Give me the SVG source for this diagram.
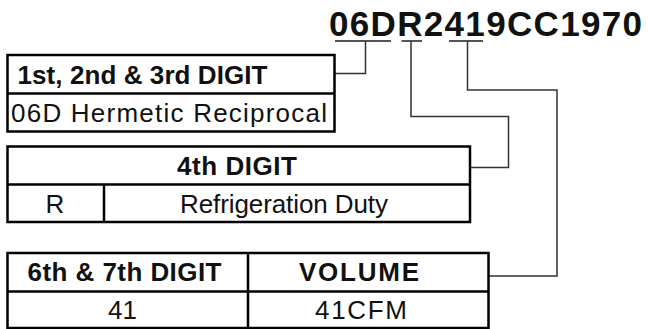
<svg xmlns="http://www.w3.org/2000/svg" width="649" height="329" viewBox="0 0 649 329">
<style>
.box{fill:#fff;stroke:#000;stroke-width:2.5}
.div{stroke:#000;stroke-width:2.5;fill:none}
.con{stroke:#333;stroke-width:1.5;fill:none}
.ul{stroke:#555;stroke-width:2;fill:none}
text{font-family:"Liberation Sans",Arial,sans-serif;fill:#111;font-size:26px}
.b{font-weight:bold}
.m{text-anchor:middle}
.title{font-size:35px;font-weight:bold}
</style>
<rect width="649" height="329" fill="#fff"/>
<g id="code">
<text class="title" x="329" y="35.5" textLength="313" lengthAdjust="spacing">06DR2419CC1970</text>
<line class="ul" x1="335" y1="41" x2="391" y2="41"/>
<line class="ul" x1="401.5" y1="41" x2="422" y2="41"/>
<line class="ul" x1="449" y1="41" x2="483" y2="41"/>
</g>
<g id="connectors">
<path class="con" d="M365.5,41 V73.5 H335"/>
<path class="con" d="M411,41 V116.5 H508.5 V167.5 H470"/>
<path class="con" d="M467.5,41 V90 H557 V276 H489"/>
</g>
<g id="digit123">
<rect class="box" x="7.5" y="55" width="327" height="76.5"/>
<line class="div" x1="7.5" y1="93.5" x2="334.5" y2="93.5"/>
<text class="b" x="17.5" y="83.5" textLength="250" lengthAdjust="spacing">1st, 2nd &amp; 3rd DIGIT</text>
<text x="11" y="121.5" textLength="316" lengthAdjust="spacing">06D Hermetic Reciprocal</text>
</g>
<g id="digit4">
<rect class="box" x="7.5" y="146.5" width="462.5" height="75.5"/>
<line class="div" x1="7.5" y1="184.5" x2="470" y2="184.5"/>
<line class="div" x1="104" y1="184.5" x2="104" y2="222"/>
<text class="b m" x="237" y="175" textLength="120" lengthAdjust="spacing">4th DIGIT</text>
<text class="m" x="55" y="212.5">R</text>
<text class="m" x="284" y="212.5" textLength="208" lengthAdjust="spacing">Refrigeration Duty</text>
</g>
<g id="digit67">
<rect class="box" x="7.5" y="253" width="481" height="75"/>
<line class="div" x1="7.5" y1="291.5" x2="488.5" y2="291.5"/>
<line class="div" x1="248" y1="253" x2="248" y2="328"/>
<text class="b m" x="124.5" y="280.5" textLength="194" lengthAdjust="spacing">6th &amp; 7th DIGIT</text>
<text class="b m" x="359" y="280.5" textLength="120" lengthAdjust="spacing">VOLUME</text>
<text class="m" x="122.5" y="318.5">41</text>
<text class="m" x="361" y="318.5" textLength="92" lengthAdjust="spacing">41CFM</text>
</g>
</svg>
